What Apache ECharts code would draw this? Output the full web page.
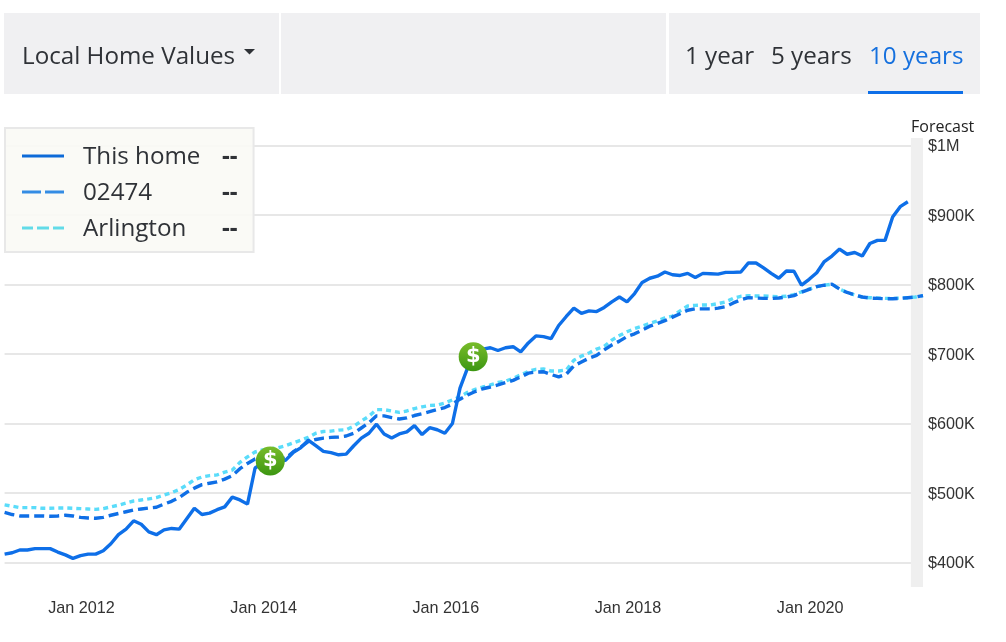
<!DOCTYPE html>
<html>
<head>
<meta charset="utf-8">
<style>html,body{margin:0;padding:0;background:#fff}#c{width:1006px;height:642px}</style>
<script src="https://cdn.jsdelivr.net/npm/echarts@6/dist/echarts.min.js"></script>
</head>
<body>
<div id="c"></div>
<script>
// Monthly values in $ thousands, Mar 2011 onward
const thisHome = [412,414,418,418,420,420,420,415,411,406,410,412,412,417,427,440,448,460,455,444,440,447,449,448,463,478,469,471,476,480,494,490,484,536,543,546,546,547,558,565,576,568,560,558,555,556,568,579,586,599,585,579,585,588,597,584,594,591,586,600,651,680,696,707,709,705,709,710.5,703,716,726,725,722,741,754,766,758.5,762,761,767,775,782,775,787,803,809,812,818,814,813,816,810,816,815.5,815,817.5,817.5,818,831,831,824,816,809,819.5,819,799,807.5,817,833,841,851,843.5,846,841,859,863.5,863.5,897,912,919];
const zip02474 = [472,469,467,467,467,467,466.5,467,468,467,465,464,463.6,465,468,470.5,473,475.5,477,478.5,479.5,484,488,493.5,501,507,512,514,516,520,525,535,542.5,549,552,551,549,550,559,566,574,577,579,580,580.5,582,586,593.5,601,611,611,608.5,606.5,608,611.5,614,617,620,623,628,635,641,646,650,652.5,655.5,659,662,667,672.5,674,674.5,670.5,667,671,683,688.5,694,698,706,713,718.5,725,729,734.5,740,744,748,753,758,763,765,765,765,766,768,773.5,778,781,780.5,780,780,780.5,782,784,789,793,797,799,800.5,793.5,788.5,785,782,780.5,780,779.5,779.5,780,781,782,784];
const arlington = [483,481,479,479,479,478,478,478.5,478.5,478,477.5,477,476.5,477.5,480,482.5,485.5,488.5,490,491.5,493.5,497,500.5,505,511.5,519,523,525,526,530,533,544,552,559,562,563.5,565,568,572,576,580,586,588.5,589,590.5,591,596,603.5,610.5,620,620,618,616,618,621.5,624,626,626.5,629.5,634,638.5,645,649,652.5,655.5,659,661,665,670,675,678,678.5,675.5,675.5,677,691,697,701.5,707,711,720,726.5,732,736.5,740,744,747.5,752,754.5,762,769,770,770.5,770.5,772.5,775,780,783,784,783.5,783.5,783,782.5,783,785.5,789.5,793.5,797,799,800.5,793.5,788.5,785,782,781,780.5,780,780,780.5,781,782,784];
const saleMonths = ['Feb 2014','May 2016'];
const saleValues = [546,696];
const xTickLabels = ['Jan 2012','Jan 2014','Jan 2016','Jan 2018','Jan 2020'];
const monthNames = ['Jan','Feb','Mar','Apr','May','Jun','Jul','Aug','Sep','Oct','Nov','Dec'];
const categories = [];
for (let y = 2011, m = 2; categories.length < arlington.length; m++) {
  if (m === 12) { m = 0; y++; }
  categories.push(monthNames[m] + ' ' + y);
}
const forecastSpan = [119.4, 121];
const names = ['This home','02474','Arlington'];

const ui = '"Open Sans"';
const hdr = '#f0f0f2', ink = '#2f3237', blue = '#0e6fe8';
function rect(x,y,w,h,fill){return {type:'rect',shape:{x,y,width:w,height:h},style:{fill}};}
function text(x,y,t,fill,size,font){return {type:'text',x,y,style:{text:t,fill,font:(size||24.2)+'px '+(font||ui),verticalAlign:'middle'}};}

const chart = echarts.init(document.getElementById('c'), null, {renderer:'canvas'});
chart.setOption({
  animation:false,
  backgroundColor:'#fff',
  graphic:[
    rect(4,13,275,81,hdr), rect(281,13,385,81,hdr), rect(669,13,311,81,hdr),
    rect(868,91,95,3,blue),
    text(22,57.5,'Local Home Values',ink),
    {type:'polygon',shape:{points:[[244,49],[255,49],[249.5,54.5]]},style:{fill:ink}},
    text(685,57.5,'1 year',ink),
    text(771,57.5,'5 years',ink),
    text(869,57.5,'10 years','#1570de'),
    text(911,127.5,'Forecast','#222',16)
  ],
  grid:[
    {left:4.6,right:83,top:145.5,height:417},
    {left:4.6,right:83,top:138,height:449}
  ],
  xAxis:[
    {type:'category',gridIndex:0,data:categories,boundaryGap:false,
     axisLine:{show:false},axisTick:{show:false},splitLine:{show:false},
     axisLabel:{interval:(i,v)=>xTickLabels.includes(v),margin:38,fontSize:16.2,color:'#333',fontFamily:'"Liberation Sans"',
       formatter:v=>'{a|'+v+'}',rich:{a:{fontSize:16.2,color:'#333',fontFamily:'"Liberation Sans"',padding:[0,0,0,2]}}}},
    {type:'value',gridIndex:1,min:0,max:arlington.length-1,show:false}
  ],
  yAxis:[
    {type:'value',gridIndex:0,position:'right',min:400,max:1000,interval:100,
     axisLine:{show:false},axisTick:{show:false},
     splitLine:{show:true,lineStyle:{color:'#e7e7e7',width:2}},
     axisLabel:{margin:5,fontSize:16.2,color:'#333',fontFamily:'"Liberation Sans"',
       formatter:v=>'{a|'+(v>=1000?'$'+v/1000+'M':'$'+v+'K')+'}',
       rich:{a:{fontSize:16.2,color:'#333',fontFamily:'"Liberation Sans"',padding:[3,0,0,0]}}}},
    {type:'value',gridIndex:1,min:0,max:1,show:false}
  ],
  legend:{
    left:5,top:128,orient:'vertical',selectedMode:false,z:10,
    padding:[15,16,11,17],itemWidth:42,itemHeight:14,itemGap:10,
    backgroundColor:'rgba(250,250,245,0.92)',borderColor:'#e8e8e8',borderWidth:2,
    data:[
      {name:names[0],icon:'path://M0 0H42V3H0Z',itemStyle:{color:'#0d6ad8'}},
      {name:names[1],icon:'path://M0 0H19V3H0Z M23 0H42V3H23Z',itemStyle:{color:'#348ce4'}},
      {name:names[2],icon:'path://M0 0H11V3H0Z M15 0H27V3H15Z M31 0H42V3H31Z',itemStyle:{color:'#62dbe8'}}
    ],
    formatter:n=>'{n|'+n+'}{v|--}',
    textStyle:{rich:{
      n:{fontFamily:ui,fontSize:24.2,color:ink,width:139,lineHeight:28,padding:[2,0,0,14]},
      v:{fontFamily:ui,fontSize:24.2,fontWeight:'bold',color:ink,lineHeight:28,padding:[2,0,0,0]}
    }}
  },
  series:[
    {type:'line',xAxisIndex:1,yAxisIndex:1,data:[],silent:true,z:0,
     markArea:{silent:true,itemStyle:{color:'#efefef',opacity:1},
       data:[[{xAxis:forecastSpan[0],yAxis:0},{xAxis:forecastSpan[1],yAxis:1}]]}},
    {name:names[2],type:'line',data:arlington,showSymbol:false,z:2,
     lineStyle:{color:'#5adcfa',width:3.4,type:[5,4]},itemStyle:{color:'#5adcfa'}},
    {name:names[1],type:'line',data:zip02474,showSymbol:false,z:3,
     lineStyle:{color:'#0f6fe6',width:3.4,type:[10,5]},itemStyle:{color:'#0f6fe6'}},
    {name:names[0],type:'line',data:thisHome,showSymbol:false,z:4,
     lineStyle:{color:'#0e6fe8',width:3.4},itemStyle:{color:'#0e6fe8'}},
    {type:'scatter',data:saleMonths.map((m,i)=>({value:[m,saleValues[i]],symbolOffset:[i?-2:0,0]})),symbol:'circle',symbolSize:29,z:5,
     itemStyle:{opacity:1,color:new echarts.graphic.LinearGradient(0,0,0,1,[{offset:0,color:'#78bc2a'},{offset:1,color:'#3c9612'}])},
     label:{show:true,position:'inside',formatter:()=>'$',color:'#fff',fontSize:21,fontWeight:'bold',fontFamily:'"DejaVu Sans"'}}
  ]
});
</script>
</body>
</html>
